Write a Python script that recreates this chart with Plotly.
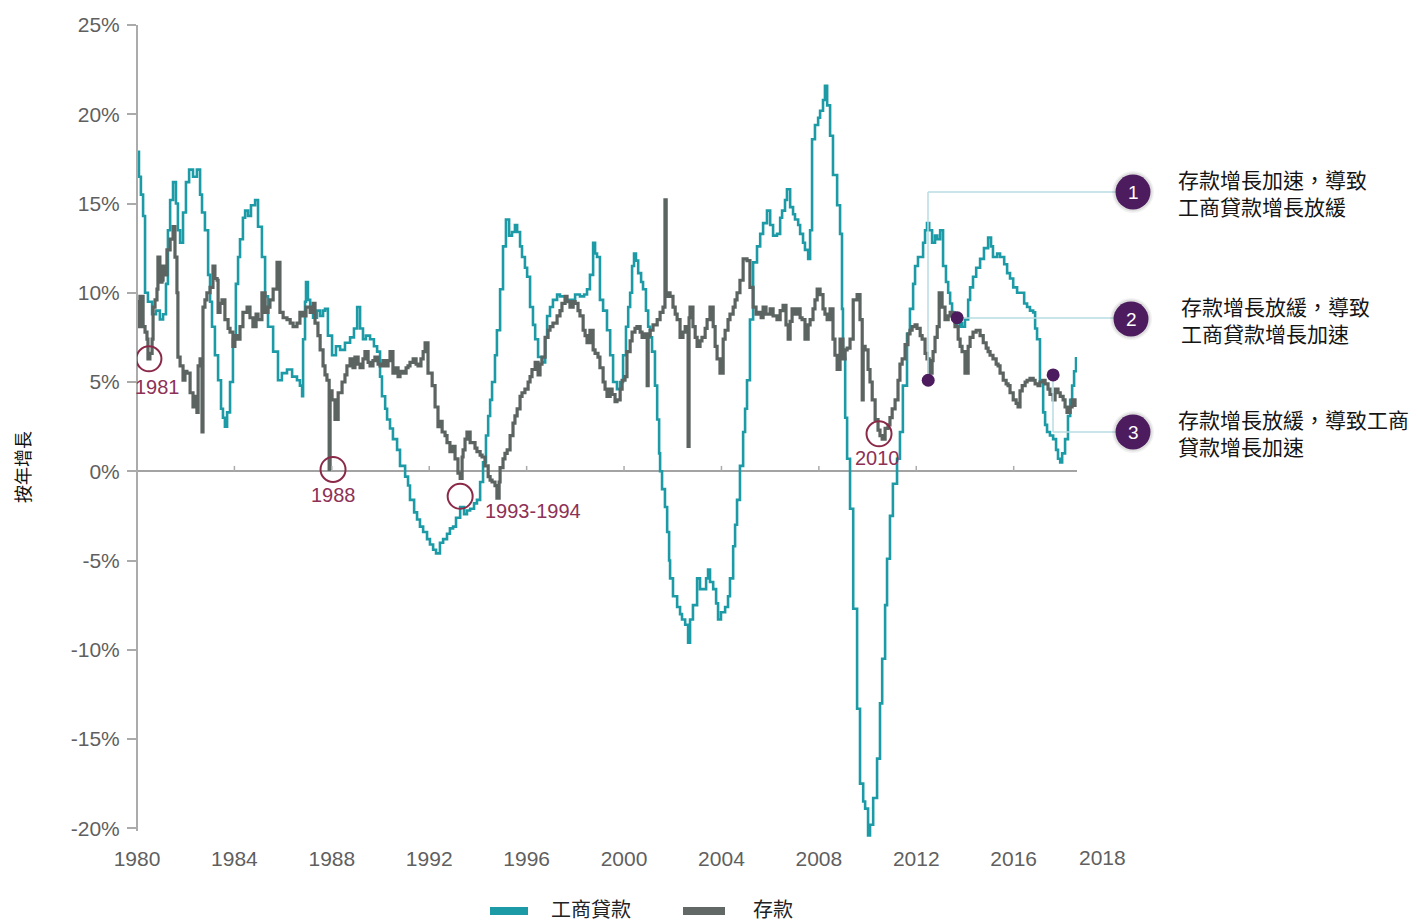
import plotly.graph_objects as go

# Year-over-year growth (%) of commercial & industrial loans, (decimal year, value)
loans = [
    (1980.00, 17.9), (1980.08, 16.5), (1980.16, 15.5), (1980.25, 14.3), (1980.33, 10.0), (1980.45, 9.5),
    (1980.62, 8.8), (1980.78, 9.0), (1980.94, 8.5), (1981.07, 8.8), (1981.19, 10.5), (1981.27, 13.5),
    (1981.36, 15.2), (1981.48, 16.2), (1981.60, 15.0), (1981.68, 13.5), (1981.77, 12.8), (1981.89, 14.5),
    (1982.01, 16.2), (1982.14, 16.9), (1982.30, 16.5), (1982.46, 16.9), (1982.59, 15.5), (1982.67, 14.5),
    (1982.79, 13.5), (1982.92, 11.0), (1983.00, 9.5), (1983.08, 8.1), (1983.20, 6.5), (1983.33, 5.1),
    (1983.45, 3.5), (1983.53, 3.0), (1983.61, 2.5), (1983.70, 3.3), (1983.82, 5.0), (1983.94, 7.4),
    (1984.06, 10.5), (1984.15, 12.0), (1984.23, 13.0), (1984.35, 14.2), (1984.44, 14.6), (1984.56, 14.3),
    (1984.68, 14.9), (1984.85, 15.2), (1984.97, 13.7), (1985.13, 12.0), (1985.26, 9.8), (1985.38, 8.1),
    (1985.59, 6.7), (1985.79, 5.1), (1985.95, 5.5), (1986.16, 5.7), (1986.37, 5.3), (1986.57, 5.1),
    (1986.69, 4.8), (1986.78, 4.2), (1986.82, 7.4), (1986.90, 9.5), (1986.94, 10.6), (1987.02, 9.6),
    (1987.11, 9.2), (1987.23, 8.6), (1987.39, 9.0), (1987.52, 8.7), (1987.64, 9.0), (1987.72, 9.1),
    (1987.84, 7.6), (1988.01, 6.5), (1988.17, 7.0), (1988.34, 6.8), (1988.54, 7.2), (1988.75, 7.5),
    (1988.91, 8.0), (1989.04, 9.2), (1989.16, 8.0), (1989.28, 7.4), (1989.40, 7.6), (1989.57, 7.4),
    (1989.73, 7.0), (1989.86, 6.7), (1989.98, 5.3), (1990.06, 4.2), (1990.19, 3.5), (1990.27, 2.9),
    (1990.39, 2.4), (1990.51, 1.8), (1990.68, 1.2), (1990.80, 0.3), (1991.01, -0.3), (1991.13, -0.8),
    (1991.21, -1.6), (1991.38, -2.3), (1991.50, -2.7), (1991.62, -3.1), (1991.75, -3.4), (1991.91, -3.8),
    (1992.03, -4.1), (1992.16, -4.4), (1992.28, -4.6), (1992.44, -4.0), (1992.57, -3.8), (1992.73, -3.5),
    (1992.85, -3.2), (1992.98, -3.1), (1993.10, -2.6), (1993.27, -2.0), (1993.43, -2.4), (1993.55, -2.2),
    (1993.68, -2.1), (1993.84, -1.8), (1993.96, -1.6), (1994.09, -0.6), (1994.21, 0.5), (1994.33, 2.0),
    (1994.42, 3.1), (1994.50, 4.0), (1994.58, 5.0), (1994.70, 6.5), (1994.78, 7.9), (1994.91, 10.2),
    (1995.03, 12.6), (1995.15, 14.1), (1995.28, 13.2), (1995.40, 13.4), (1995.52, 13.8), (1995.61, 13.4),
    (1995.73, 12.6), (1995.81, 12.0), (1995.93, 11.4), (1996.02, 10.9), (1996.14, 9.2), (1996.26, 8.2),
    (1996.35, 7.4), (1996.47, 6.4), (1996.63, 6.1), (1996.76, 7.5), (1996.84, 8.7), (1996.96, 9.2),
    (1997.08, 9.6), (1997.25, 9.9), (1997.37, 9.8), (1997.58, 9.6), (1997.78, 9.6), (1997.99, 9.9),
    (1998.19, 9.8), (1998.36, 9.9), (1998.48, 10.2), (1998.60, 11.0), (1998.73, 12.8), (1998.81, 12.2),
    (1998.89, 12.0), (1999.01, 9.6), (1999.14, 9.0), (1999.30, 7.9), (1999.43, 6.5), (1999.55, 5.0),
    (1999.71, 4.6), (1999.84, 5.0), (1999.96, 6.5), (2000.08, 8.1), (2000.17, 9.2), (2000.25, 10.0),
    (2000.33, 11.5), (2000.41, 12.2), (2000.49, 11.8), (2000.58, 11.1), (2000.70, 10.6), (2000.78, 10.2),
    (2000.90, 9.0), (2000.99, 8.1), (2001.07, 7.5), (2001.15, 6.7), (2001.27, 4.8), (2001.36, 2.9),
    (2001.44, 1.0), (2001.48, 0.0), (2001.56, -1.0), (2001.68, -2.0), (2001.77, -3.4), (2001.85, -5.0),
    (2001.89, -6.0), (2002.01, -7.0), (2002.18, -7.6), (2002.30, -8.0), (2002.38, -8.3), (2002.51, -8.6),
    (2002.63, -9.6), (2002.71, -8.3), (2002.83, -7.5), (2003.00, -6.0), (2003.12, -6.6), (2003.24, -6.6),
    (2003.37, -6.0), (2003.45, -5.5), (2003.53, -6.2), (2003.66, -6.6), (2003.78, -7.4), (2003.86, -8.3),
    (2003.98, -7.9), (2004.15, -7.6), (2004.27, -7.0), (2004.35, -6.0), (2004.48, -4.2), (2004.56, -3.0),
    (2004.64, -1.6), (2004.76, 0.3), (2004.89, 2.2), (2004.97, 3.5), (2005.05, 5.1), (2005.17, 8.5),
    (2005.30, 11.7), (2005.46, 12.6), (2005.59, 13.3), (2005.71, 13.9), (2005.87, 14.6), (2006.00, 13.8),
    (2006.12, 13.2), (2006.28, 13.3), (2006.41, 14.2), (2006.49, 14.6), (2006.61, 15.2), (2006.69, 15.8),
    (2006.82, 14.8), (2006.94, 14.4), (2007.02, 14.1), (2007.15, 13.8), (2007.23, 13.3), (2007.35, 12.8),
    (2007.43, 12.4), (2007.56, 11.9), (2007.64, 13.5), (2007.72, 18.6), (2007.84, 19.4), (2007.97, 19.8),
    (2008.05, 20.2), (2008.17, 20.8), (2008.25, 21.6), (2008.34, 20.5), (2008.46, 18.8), (2008.58, 16.6),
    (2008.75, 14.9), (2008.87, 13.3), (2008.95, 9.1), (2008.99, 6.3), (2009.08, 3.0), (2009.16, 0.7),
    (2009.28, -2.1), (2009.41, -7.7), (2009.57, -13.3), (2009.69, -17.5), (2009.82, -18.5), (2009.90, -18.9),
    (2010.02, -20.4), (2010.10, -19.8), (2010.23, -18.3), (2010.39, -16.1), (2010.51, -13.0), (2010.60, -10.5),
    (2010.72, -7.5), (2010.80, -4.9), (2010.92, -2.5), (2011.04, -0.7), (2011.21, 0.7), (2011.33, 2.2),
    (2011.45, 4.8), (2011.62, 7.7), (2011.74, 9.1), (2011.87, 10.5), (2011.95, 11.5), (2012.07, 12.0),
    (2012.16, 12.0), (2012.28, 12.8), (2012.36, 13.5), (2012.44, 13.9), (2012.53, 13.5), (2012.65, 12.8),
    (2012.77, 13.2), (2012.86, 13.0), (2012.98, 13.5), (2013.10, 11.5), (2013.22, 10.6), (2013.31, 10.0),
    (2013.39, 9.4), (2013.47, 8.9), (2013.59, 8.3), (2013.68, 8.1), (2013.80, 8.3), (2013.88, 8.1),
    (2014.00, 8.5), (2014.13, 9.6), (2014.21, 10.3), (2014.33, 10.9), (2014.46, 11.4), (2014.62, 11.9),
    (2014.78, 12.5), (2014.95, 13.1), (2015.07, 12.6), (2015.15, 12.0), (2015.32, 12.2), (2015.44, 12.0),
    (2015.61, 11.6), (2015.73, 11.1), (2015.85, 10.8), (2015.98, 10.3), (2016.14, 10.0), (2016.26, 10.0),
    (2016.43, 9.4), (2016.55, 9.2), (2016.67, 9.0), (2016.80, 8.9), (2016.88, 8.0), (2016.96, 7.4),
    (2017.08, 5.1), (2017.21, 3.3), (2017.29, 2.6), (2017.37, 2.2), (2017.49, 2.0), (2017.62, 1.8),
    (2017.74, 1.2), (2017.82, 0.7), (2017.91, 0.5), (2017.99, 1.0), (2018.11, 1.8), (2018.23, 3.1),
    (2018.32, 4.0), (2018.40, 4.8), (2018.48, 5.6), (2018.56, 6.4),
]

# Year-over-year growth (%) of deposits, (decimal year, value)
deposits = [
    (1980.00, 9.5), (1980.04, 8.1), (1980.12, 9.8), (1980.25, 8.1), (1980.33, 7.8), (1980.41, 7.4),
    (1980.45, 6.3), (1980.53, 6.6), (1980.62, 7.4), (1980.66, 9.2), (1980.74, 9.6), (1980.82, 10.2),
    (1980.86, 12.0), (1980.94, 10.6), (1981.03, 10.7), (1981.07, 11.5), (1981.15, 11.0), (1981.23, 12.4),
    (1981.36, 13.0), (1981.48, 13.7), (1981.56, 12.0), (1981.64, 10.0), (1981.68, 6.4), (1981.77, 5.9),
    (1981.89, 5.1), (1981.97, 5.6), (1982.05, 5.5), (1982.18, 4.4), (1982.30, 3.6), (1982.38, 4.2),
    (1982.46, 3.3), (1982.51, 5.9), (1982.59, 6.3), (1982.67, 2.2), (1982.71, 9.2), (1982.79, 9.6),
    (1982.87, 10.0), (1983.00, 10.3), (1983.12, 11.5), (1983.20, 10.8), (1983.29, 10.7), (1983.33, 8.9),
    (1983.41, 9.4), (1983.49, 9.6), (1983.61, 8.5), (1983.74, 8.0), (1983.82, 7.8), (1983.94, 7.0),
    (1984.02, 7.6), (1984.11, 7.4), (1984.23, 8.1), (1984.35, 8.9), (1984.52, 9.2), (1984.64, 8.6),
    (1984.76, 8.1), (1984.89, 8.8), (1984.97, 8.5), (1985.13, 10.0), (1985.26, 8.9), (1985.38, 9.2),
    (1985.46, 9.6), (1985.59, 10.2), (1985.75, 11.7), (1985.87, 8.9), (1986.00, 8.6), (1986.16, 8.5),
    (1986.29, 8.3), (1986.41, 8.1), (1986.57, 8.3), (1986.69, 8.9), (1986.82, 8.7), (1986.94, 9.2),
    (1987.11, 8.9), (1987.23, 9.4), (1987.31, 8.3), (1987.43, 7.6), (1987.52, 6.8), (1987.64, 5.9),
    (1987.72, 5.4), (1987.80, 5.1), (1987.89, 0.1), (1987.93, 4.5), (1988.01, 4.0), (1988.13, 2.9),
    (1988.26, 4.4), (1988.42, 5.0), (1988.54, 5.4), (1988.62, 5.9), (1988.75, 6.3), (1988.87, 5.8),
    (1988.95, 6.4), (1989.08, 6.0), (1989.16, 5.8), (1989.28, 6.3), (1989.36, 6.7), (1989.49, 6.1),
    (1989.57, 5.9), (1989.69, 6.2), (1989.77, 6.4), (1989.90, 6.0), (1989.98, 5.9), (1990.10, 6.2),
    (1990.19, 5.9), (1990.31, 6.2), (1990.39, 6.7), (1990.51, 5.5), (1990.60, 5.8), (1990.72, 5.3),
    (1990.80, 5.6), (1990.92, 5.5), (1991.05, 5.8), (1991.13, 5.9), (1991.21, 6.1), (1991.34, 6.3),
    (1991.46, 6.0), (1991.54, 5.9), (1991.66, 6.3), (1991.75, 6.7), (1991.83, 7.2), (1991.95, 5.5),
    (1992.12, 4.8), (1992.24, 3.6), (1992.36, 2.5), (1992.44, 2.8), (1992.53, 2.2), (1992.65, 2.0),
    (1992.73, 1.6), (1992.85, 1.1), (1992.94, 1.4), (1993.06, 0.7), (1993.18, -0.1), (1993.27, -0.4),
    (1993.35, 0.8), (1993.39, 1.2), (1993.47, 1.8), (1993.55, 2.2), (1993.68, 1.6), (1993.80, 1.6),
    (1993.88, 1.3), (1993.96, 1.1), (1994.09, 0.9), (1994.17, 0.8), (1994.29, 0.3), (1994.42, -0.3),
    (1994.50, -0.5), (1994.58, -0.6), (1994.70, -0.8), (1994.78, -1.5), (1994.87, -0.6), (1994.91, 0.2),
    (1995.03, 0.7), (1995.11, 1.0), (1995.20, 1.2), (1995.32, 2.0), (1995.44, 2.7), (1995.52, 3.1),
    (1995.61, 3.5), (1995.73, 4.2), (1995.81, 4.4), (1995.93, 4.6), (1996.06, 5.0), (1996.14, 5.3),
    (1996.22, 5.7), (1996.35, 6.1), (1996.47, 5.4), (1996.55, 6.0), (1996.63, 6.4), (1996.76, 7.5),
    (1996.88, 7.9), (1996.96, 8.1), (1997.08, 8.3), (1997.25, 8.7), (1997.37, 9.0), (1997.45, 9.4),
    (1997.58, 9.8), (1997.66, 9.5), (1997.78, 9.2), (1997.91, 9.5), (1997.99, 9.4), (1998.11, 9.0),
    (1998.19, 8.7), (1998.32, 7.9), (1998.40, 7.6), (1998.48, 7.2), (1998.60, 7.9), (1998.73, 6.8),
    (1998.81, 6.6), (1998.93, 6.4), (1999.01, 5.8), (1999.14, 5.0), (1999.22, 4.6), (1999.30, 4.2),
    (1999.43, 4.6), (1999.51, 4.3), (1999.63, 3.9), (1999.71, 4.0), (1999.84, 4.6), (1999.92, 5.1),
    (2000.04, 5.3), (2000.12, 6.7), (2000.25, 7.3), (2000.33, 7.8), (2000.45, 8.0), (2000.53, 8.1),
    (2000.66, 7.8), (2000.74, 7.5), (2000.86, 7.7), (2000.95, 4.8), (2000.99, 7.6), (2001.07, 7.9),
    (2001.19, 8.2), (2001.36, 8.5), (2001.48, 8.9), (2001.60, 9.2), (2001.68, 15.2), (2001.73, 9.8),
    (2001.77, 10.0), (2001.89, 9.8), (2002.01, 9.2), (2002.10, 8.8), (2002.18, 8.5), (2002.30, 7.5),
    (2002.42, 7.8), (2002.51, 8.1), (2002.63, 1.4), (2002.67, 8.6), (2002.71, 9.2), (2002.83, 8.1),
    (2002.92, 7.5), (2003.00, 7.0), (2003.12, 7.3), (2003.20, 7.5), (2003.33, 8.0), (2003.41, 8.5),
    (2003.53, 9.2), (2003.66, 8.1), (2003.74, 7.0), (2003.82, 6.3), (2003.94, 5.5), (2004.07, 7.4),
    (2004.15, 7.9), (2004.27, 8.5), (2004.35, 8.8), (2004.48, 9.2), (2004.56, 9.6), (2004.64, 10.0),
    (2004.76, 10.7), (2004.89, 11.9), (2005.05, 11.8), (2005.17, 10.3), (2005.30, 9.2), (2005.42, 8.8),
    (2005.50, 8.9), (2005.63, 8.6), (2005.71, 9.2), (2005.83, 8.8), (2006.00, 9.1), (2006.12, 8.7),
    (2006.28, 8.5), (2006.41, 9.0), (2006.53, 9.3), (2006.65, 8.2), (2006.74, 7.4), (2006.82, 8.4),
    (2006.90, 9.1), (2007.02, 8.8), (2007.11, 9.1), (2007.23, 8.6), (2007.31, 8.5), (2007.43, 7.4),
    (2007.56, 8.2), (2007.64, 8.5), (2007.76, 9.1), (2007.84, 9.6), (2007.93, 10.2), (2008.05, 9.9),
    (2008.17, 9.1), (2008.25, 8.8), (2008.34, 8.5), (2008.46, 9.1), (2008.58, 7.4), (2008.66, 6.5),
    (2008.75, 5.7), (2008.87, 7.4), (2008.99, 6.3), (2009.08, 6.8), (2009.16, 6.9), (2009.28, 7.4),
    (2009.41, 9.6), (2009.57, 9.9), (2009.69, 8.5), (2009.78, 4.0), (2009.82, 7.0), (2009.90, 6.8),
    (2010.02, 5.7), (2010.10, 5.0), (2010.19, 4.0), (2010.31, 2.9), (2010.43, 2.3), (2010.51, 2.0),
    (2010.60, 1.8), (2010.72, 2.4), (2010.84, 2.6), (2010.92, 3.0), (2011.01, 3.5), (2011.13, 4.0),
    (2011.25, 5.1), (2011.33, 6.0), (2011.42, 6.3), (2011.54, 7.1), (2011.66, 7.7), (2011.74, 7.9),
    (2011.83, 8.1), (2011.95, 8.2), (2012.03, 8.0), (2012.16, 7.6), (2012.24, 7.4), (2012.36, 6.6),
    (2012.44, 6.3), (2012.53, 5.6), (2012.57, 5.5), (2012.65, 6.2), (2012.69, 6.7), (2012.77, 7.5),
    (2012.86, 8.1), (2012.94, 10.0), (2013.06, 9.2), (2013.18, 8.5), (2013.31, 8.7), (2013.39, 8.9),
    (2013.51, 8.5), (2013.59, 8.1), (2013.72, 7.4), (2013.80, 7.0), (2013.88, 6.7), (2014.00, 5.5),
    (2014.13, 7.0), (2014.21, 7.5), (2014.33, 7.8), (2014.46, 7.9), (2014.54, 7.9), (2014.62, 7.6),
    (2014.75, 7.2), (2014.87, 6.9), (2014.95, 6.7), (2015.03, 6.5), (2015.15, 6.3), (2015.28, 6.0),
    (2015.36, 5.9), (2015.44, 5.5), (2015.57, 5.1), (2015.69, 4.9), (2015.77, 4.8), (2015.85, 4.4),
    (2015.98, 4.0), (2016.10, 3.8), (2016.18, 3.6), (2016.26, 4.5), (2016.35, 4.8), (2016.47, 5.0),
    (2016.55, 5.1), (2016.67, 5.2), (2016.80, 5.1), (2016.88, 4.9), (2017.00, 4.8), (2017.08, 5.0),
    (2017.21, 5.1), (2017.29, 4.9), (2017.41, 4.6), (2017.49, 4.3), (2017.62, 4.0), (2017.70, 4.6),
    (2017.82, 4.4), (2017.91, 4.2), (2018.03, 4.0), (2018.11, 3.6), (2018.19, 3.3), (2018.32, 3.6),
    (2018.40, 4.0), (2018.52, 3.6),
]

series_names = ["工商貸款", "存款"]

y_tick_values = [-20, -15, -10, -5, 0, 5, 10, 15, 20, 25]
y_tick_labels = ["-20%", "-15%", "-10%", "-5%", "0%", "5%", "10%", "15%", "20%", "25%"]
x_tick_values = [1980, 1984, 1988, 1992, 1996, 2000, 2004, 2008, 2012, 2016]
x_tick_labels = ["1980", "1984", "1988", "1992", "1996", "2000", "2004", "2008", "2012", "2016"]
x_end_label = "2018"

# Highlighted episodes: (label, year, growth)
episodes = [("1981", 1980.49, 6.3), ("1988", 1988.05, 0.1), ("1993-1994", 1993.27, -1.4), ("2010", 2010.47, 2.1)]
episode_labels_at = [(1980.86, 4.7), (1988.05, -1.35), (1996.26, -2.25), (2010.39, 0.75)]

# Numbered call-outs: (year, growth) of the marker and its note
callout_points = [(2012.49, 5.1), (2013.68, 8.6), (2017.62, 5.4)]
callout_notes = [
    "存款增長加速，導致<br>工商貸款增長放緩",
    "存款增長放緩，導致<br>工商貸款增長加速",
    "存款增長放緩，導致工商<br>貸款增長加速",
]
y_title = "按年增長"

TEAL = "#1c9ba6"
GREY = "#5c6461"
MAROON = "#8b2a48"
PURPLE = "#4c1c5e"
CONNECT = "#b7dde2"
AXIS = "#ababab"
LATIN = "Arial, Liberation Sans, sans-serif"
CJK = "Noto Sans CJK TC, sans-serif"

W, H = 1418, 922
L, R, T, B = 137, 1077, 25, 839   # plot area in pixels


def fx(p):
    return (p - L) / (R - L)


def fy(p):
    return (B - p) / (B - T)


def note(x, y, text, font, xanchor="center", **kw):
    return dict(x=x, y=y, xref="paper", yref="paper", text=text, showarrow=False,
                xanchor=xanchor, yanchor="middle", borderpad=0, font=font, **kw)


fig = go.Figure()
fig.add_trace(go.Scatter(
    x=[p[0] for p in loans], y=[p[1] for p in loans], name=series_names[0],
    mode="lines", line=dict(color=TEAL, width=2.6, shape="hv"), showlegend=False,
))
fig.add_trace(go.Scatter(
    x=[p[0] for p in deposits], y=[p[1] for p in deposits], name=series_names[1],
    mode="lines", line=dict(color=GREY, width=3.2, shape="hv"), showlegend=False,
))

shapes = []
annotations = []

# y-axis line and tick marks on the zero line
shapes.append(dict(type="line", xref="paper", yref="y", x0=0, x1=0, y0=-20.15, y1=25,
                   line=dict(color=AXIS, width=2)))
for xv in x_tick_values[1:]:
    shapes.append(dict(type="line", xref="x", yref="y", x0=xv, x1=xv, y0=0, y1=0.3,
                       line=dict(color=AXIS, width=1.5)))

# circled episodes
for (label, xv, yv), (lx, ly) in zip(episodes, episode_labels_at):
    shapes.append(dict(type="circle", xref="x", yref="y", xsizemode="pixel", ysizemode="pixel",
                       xanchor=xv, yanchor=yv, x0=-12.5, x1=12.5, y0=-12.5, y1=12.5,
                       line=dict(color=MAROON, width=2)))
    annotations.append(dict(x=lx, y=ly, xref="x", yref="y", text=label, showarrow=False,
                            xanchor="center", yanchor="middle",
                            font=dict(family=LATIN, size=20, color="#8d3157")))

# call-out connectors (pixel paths)
conn = [
    [(928, 381), (928, 192), (1116, 192)],
    [(957, 318), (1114, 318)],
    [(1053, 376), (1053, 432), (1116, 432)],
]
for path in conn:
    for (xa, ya), (xb, yb) in zip(path[:-1], path[1:]):
        shapes.append(dict(type="line", xref="paper", yref="paper", x0=fx(xa), x1=fx(xb),
                           y0=fy(ya), y1=fy(yb), line=dict(color=CONNECT, width=1.5)))

# call-out dots on the series
for xv, yv in callout_points:
    shapes.append(dict(type="circle", xref="x", yref="y", xsizemode="pixel", ysizemode="pixel",
                       xanchor=xv, yanchor=yv, x0=-6.5, x1=6.5, y0=-6.5, y1=6.5,
                       fillcolor=PURPLE, line=dict(width=0)))

# numbered badges with notes
badges = [(1133, 192), (1131, 319), (1133, 432)]
note_x = [1177, 1180, 1177]
for i, ((bx, by), text, nx) in enumerate(zip(badges, callout_notes, note_x)):
    for r, col in ((21, "rgba(0,0,0,0.05)"), (19.5, "rgba(0,0,0,0.08)")):
        shapes.append(dict(type="circle", xref="paper", yref="paper", xsizemode="pixel",
                           ysizemode="pixel", xanchor=fx(bx), yanchor=fy(by),
                           x0=-r, x1=r, y0=-r, y1=r, fillcolor=col, line=dict(width=0)))
    shapes.append(dict(type="circle", xref="paper", yref="paper", xsizemode="pixel",
                       ysizemode="pixel", xanchor=fx(bx), yanchor=fy(by),
                       x0=-17.5, x1=17.5, y0=-17.5, y1=17.5, fillcolor=PURPLE, line=dict(width=0)))
    annotations.append(note(fx(bx), fy(by), str(i + 1),
                            dict(family=LATIN, size=19, color="white")))
    annotations.append(note(fx(nx), fy(by), text, dict(family=CJK, size=21, color="#151515"),
                            xanchor="left", align="left"))

# end-of-axis year label
annotations.append(note(fx(1102), fy(857), x_end_label,
                        dict(family=LATIN, size=21, color="#5f5f5f")))

# y-axis title
annotations.append(note(fx(22), fy(467), y_title, dict(family=CJK, size=18, color="#111111"),
                        textangle=-90))

# legend
legend_items = [(490, 528, 550, TEAL), (683, 725, 752, "#616866")]
for name, (sx0, sx1, tx, col) in zip(series_names, legend_items):
    shapes.append(dict(type="rect", xref="paper", yref="paper", x0=fx(sx0), x1=fx(sx1),
                       y0=fy(915), y1=fy(907), fillcolor=col, line=dict(width=0)))
    annotations.append(note(fx(tx), fy(908), name, dict(family=CJK, size=20, color="#222222"),
                            xanchor="left"))

fig.update_layout(
    width=W, height=H,
    margin=dict(l=L, r=W - R, t=T, b=H - B),
    paper_bgcolor="white", plot_bgcolor="white",
    shapes=shapes, annotations=annotations,
    showlegend=False,
    xaxis=dict(range=[1980, 2018.6], tickvals=x_tick_values, ticktext=x_tick_labels,
               showgrid=False, zeroline=False, showline=False,
               ticks="outside", ticklen=1, tickcolor="rgba(0,0,0,0)",
               tickfont=dict(family=LATIN, size=21, color="#5f5f5f")),
    yaxis=dict(range=[-20.6, 25], tickvals=y_tick_values, ticktext=y_tick_labels,
               showgrid=False, showline=False,
               zeroline=True, zerolinecolor="#a3a3a3", zerolinewidth=2,
               ticks="outside", ticklen=9, tickcolor=AXIS, tickwidth=1.5,
               ticklabelstandoff=3,
               tickfont=dict(family=LATIN, size=21, color="#5f5f5f")),
)

fig.write_html("out.html")
